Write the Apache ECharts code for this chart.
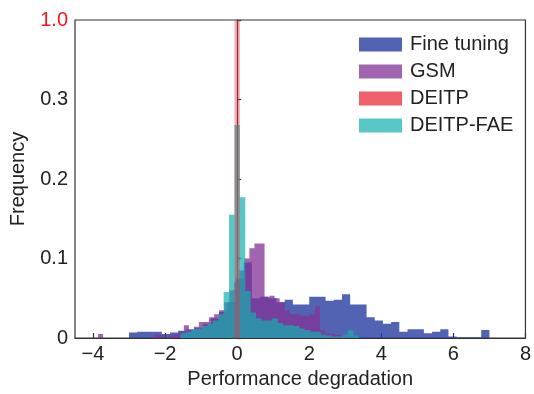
<!DOCTYPE html>
<html>
<head>
<meta charset="utf-8">
<script src="https://cdn.jsdelivr.net/npm/echarts@6/dist/echarts.min.js"></script>
<style>
  html, body {margin: 0; padding: 0; background: #fff;}
  #main {width: 534px; height: 394px;}
</style>
</head>
<body>
<div id="main"></div>
<script>
// histogram bin settings + frequencies
const fineStart = -3.0, fineWidth = 10 / 44;
const fineVals = [
    0.007, 0.008, 0.008, 0.008, 0.005, 0.007, 0.009, 0.011, 0.013, 0.018,
    0.025, 0.033, 0.045, 0.075, 0.095, 0.050, 0.052, 0.050, 0.045, 0.048,
    0.042, 0.042, 0.052, 0.052, 0.047, 0.048, 0.055, 0.042, 0.042, 0.026,
    0.022, 0.018, 0.020, 0.008, 0.011, 0.011, 0.006, 0.008, 0.011, 0.002,
    0.001, 0.001, 0.001, 0.010
];

const gsmStart = -3.86, gsmWidth = 0.14;
const gsmVals = [
    0.005, 0, 0, 0, 0, 0, 0, 0, 0, 0,
    0, 0.004, 0.004, 0, 0.003, 0.004, 0.008, 0.016, 0.010, 0.014,
    0.020, 0.020, 0.026, 0.030, 0.035, 0.045, 0.060, 0.070, 0.085, 0.100,
    0.113, 0.119, 0.119, 0.052, 0.053, 0.050, 0.045, 0.035, 0.030, 0.030,
    0.028, 0.028, 0.030, 0.040, 0.010, 0.006, 0.005, 0.004, 0.003, 0.003,
    0.002
];

const deitpStart = -0.075, deitpWidth = 0.15;
const deitpVals = [1.0];

const faeStart = -1.575, faeWidth = 0.15;
const faeVals = [
    0.006, 0.008, 0.011, 0.012, 0.015, 0.018, 0.022, 0.030, 0.058, 0.155,
    0.268, 0.177, 0.059, 0.032, 0.025, 0.022, 0.022, 0.025, 0.019, 0.016,
    0.016, 0.015, 0.012, 0.010, 0.008, 0.008, 0.004, 0.003, 0.002, 0.002,
    0.004, 0.010, 0.003
];

const xTicks = [-4, -2, 0, 2, 4, 6, 8];
const yTicks = [0, 0.1, 0.2, 0.3, 1.0];

// broken y axis: 0..0.3 linear, 0.3..1.0 squeezed into one tick step
function brk(v) {
    return v <= 0.3 ? v : 0.3 + (v - 0.3) / 7;
}

// [left edge, freq] per bin, plus the closing right edge
function bins(start, width, vals) {
    const pts = vals.map((v, i) => [start + i * width, brk(v)]);
    pts.push([start + vals.length * width, brk(vals[vals.length - 1])]);
    return pts;
}

const font = 'Liberation Sans, Arial, sans-serif';

// one filled step polygon per histogram (like histtype='stepfilled')
function histSeries(name, color, fill, pts, z) {
    return {
        name: name,
        type: 'custom',
        z: z,
        data: pts,
        encode: {x: 0, y: 1},
        itemStyle: {color: color},
        silent: true,
        renderItem: function (params, api) {
            if (params.dataIndex !== 0) return null;
            const outline = [api.coord([pts[0][0], 0]), api.coord(pts[0])];
            for (let i = 1; i < pts.length; i++) {
                outline.push(api.coord([pts[i][0], pts[i - 1][1]]));
                outline.push(api.coord(pts[i]));
            }
            outline.push(api.coord([pts[pts.length - 1][0], 0]));
            return {type: 'polygon', shape: {points: outline}, style: {fill: fill}};
        }
    };
}

const chart = echarts.init(document.getElementById('main'));
const option = {
    animation: false,
    textStyle: {fontFamily: font},
    grid: {
        left: 74, right: 6, top: 20, bottom: 51,
        show: true, borderColor: '#333', borderWidth: 1.2, backgroundColor: 'transparent'
    },
    legend: {
        orient: 'vertical',
        left: 354, top: 29,
        icon: 'rect',
        itemWidth: 43, itemHeight: 14, itemGap: 6,
        data: ['Fine tuning', 'GSM', 'DEITP', 'DEITP-FAE'],
        textStyle: {fontSize: 20, color: '#222', fontFamily: font, padding: [0, 0, 0, 3], lineHeight: 21}
    },
    xAxis: {
        type: 'value', min: -4.5, max: 8,
        name: 'Performance degradation', nameLocation: 'middle', nameGap: 31,
        nameTextStyle: {fontSize: 20, color: '#222', fontFamily: font},
        splitLine: {show: false},
        axisLine: {lineStyle: {color: '#333', width: 1.2}},
        axisTick: {inside: true, length: 5, customValues: xTicks, lineStyle: {color: '#333', width: 1.2}},
        axisLabel: {
            customValues: xTicks, fontSize: 20, color: '#222', margin: 6, fontFamily: font,
            formatter: v => (v < 0 ? '\u2212' + Math.abs(v) : String(v))
        }
    },
    yAxis: {
        type: 'value', min: 0, max: 0.4,
        name: 'Frequency', nameLocation: 'middle', nameGap: 47,
        nameTextStyle: {fontSize: 20, color: '#222', fontFamily: font},
        splitLine: {show: false},
        axisLine: {lineStyle: {color: '#333', width: 1.2}},
        axisTick: {inside: true, length: 4, customValues: yTicks.map(brk), lineStyle: {color: '#333', width: 1.2}},
        axisLabel: {
            customValues: yTicks.map(brk), fontSize: 20, color: '#222', margin: 7, fontFamily: font,
            formatter: v => {
                const t = yTicks.find(y => Math.abs(brk(y) - v) < 1e-6);
                if (t === 0) return '0';
                if (t > 0.3) return '{r|' + t.toFixed(1) + '}';
                return t.toFixed(1);
            },
            rich: {r: {color: '#f5141e', fontSize: 20, fontFamily: font}}
        }
    },
    series: [
        histSeries('Fine tuning', 'rgb(83,99,179)', 'rgba(40,60,160,0.8)', bins(fineStart, fineWidth, fineVals), 2),
        histSeries('GSM', 'rgb(161,101,176)', 'rgba(130,50,150,0.75)', bins(gsmStart, gsmWidth, gsmVals), 3),
        histSeries('DEITP-FAE', 'rgb(90,199,199)', 'rgba(20,175,175,0.7)', bins(faeStart, faeWidth, faeVals), 4),
        histSeries('DEITP', 'rgb(240,96,106)', 'rgba(235,50,60,0.4)', bins(deitpStart, deitpWidth, deitpVals), 5)
    ]
};
chart.setOption(option);
</script>
</body>
</html>
